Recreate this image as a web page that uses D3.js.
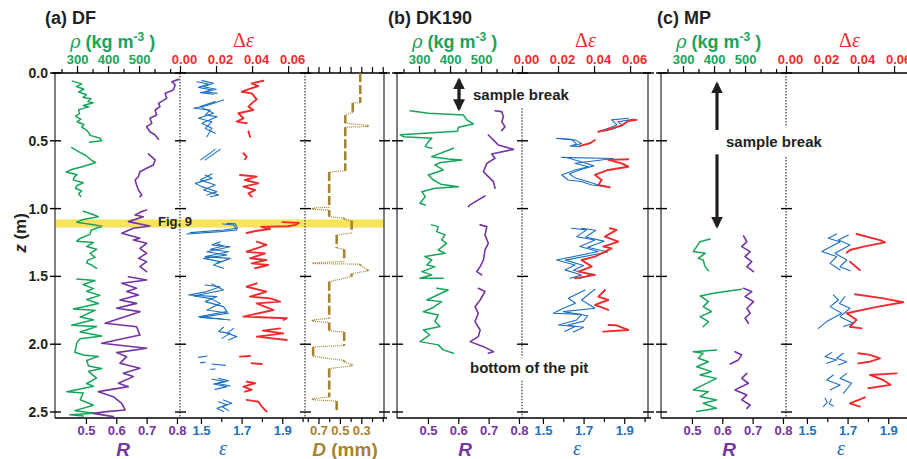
<!DOCTYPE html>
<html>
<head>
<meta charset="utf-8">
<script src="https://cdn.jsdelivr.net/npm/d3@7"></script>
<style>
body { margin: 0; background: #fff; }
svg { display: block; font-family: Arial, "Liberation Sans", sans-serif; }
</style>
</head>
<body>
<div id="chart"></div>
<script>
// depth ticks and axis ticks
var zTicks = [0, 0.5, 1, 1.5, 2, 2.5];
var rhoTicks = [300, 400, 500];
var rhoMinor = [250, 350, 450, 550, 600];
var dEpsTicks = [0, 0.02, 0.04, 0.06];
var rTicks = [0.5, 0.6, 0.7, 0.8];
var epsTicks = [1.5, 1.7, 1.9];
var epsMinor = [1.6, 1.8, 2.0];
var dTicks = [0.7, 0.5, 0.3];
var dMinor = [0.8, 0.6, 0.4, 0.2, 0.1];
var fig9Band = [1.08, 1.14];

// (a) DF  -- each series: list of segments of [z, value]
var dfRho = [
  [[0.06,285],[0.08,315],[0.10,298],[0.12,322],[0.14,305],[0.16,330],[0.18,320],[0.19,345],[0.21,335],[0.22,352],[0.24,320],[0.25,338],[0.27,305],[0.30,308],[0.32,295],[0.34,312],[0.36,300],[0.38,322],[0.40,315],[0.42,330],[0.44,338],[0.46,342],[0.48,372],[0.50,380],[0.51,340]],
  [[0.55,283],[0.58,305],[0.61,330],[0.64,345],[0.66,360],[0.69,320],[0.71,285],[0.73,265],[0.75,300],[0.77,290],[0.79,288],[0.81,320],[0.83,300],[0.85,295],[0.87,315],[0.89,305],[0.91,312]],
  [[1.02,320],[1.04,347],[1.06,369],[1.08,320],[1.10,299],[1.115,342],[1.13,380],[1.16,345],[1.19,342],[1.22,310],[1.24,299],[1.25,353],[1.28,331],[1.30,363],[1.33,342],[1.36,358],[1.38,335],[1.40,331],[1.42,350],[1.44,363]],
  [[1.52,299],[1.53,358],[1.56,320],[1.59,353],[1.61,331],[1.64,374],[1.67,331],[1.70,369],[1.74,288],[1.75,358],[1.80,310],[1.82,353],[1.86,283],[1.87,363],[1.91,310],[1.94,380],[1.96,310],[1.99,299],[2.06,293],[2.08,320],[2.09,369],[2.12,331],[2.16,337],[2.18,380],[2.20,337],[2.25,363],[2.29,331],[2.31,353],[2.35,267],[2.36,320],[2.41,310],[2.45,353],[2.49,293],[2.51,358],[2.52,277],[2.53,320]]
];
var dfR = [
  [[0.047,0.805],[0.064,0.783],[0.088,0.794],[0.125,0.788],[0.15,0.761],[0.187,0.766],[0.224,0.739],[0.248,0.744],[0.273,0.728],[0.31,0.733],[0.334,0.711],[0.371,0.717],[0.396,0.700],[0.433,0.711],[0.457,0.728],[0.489,0.739]],
  [[0.597,0.706],[0.641,0.728],[0.678,0.722],[0.703,0.700],[0.728,0.678],[0.764,0.673],[0.789,0.662],[0.826,0.667],[0.863,0.673],[0.90,0.684],[0.912,0.678]],
  [[1.01,0.700],[1.022,0.684],[1.047,0.662],[1.06,0.689],[1.096,0.640],[1.128,0.711],[1.145,0.656],[1.182,0.618],[1.219,0.678],[1.231,0.656],[1.256,0.700],[1.293,0.678],[1.33,0.700],[1.367,0.673],[1.391,0.700],[1.428,0.678],[1.465,0.700]],
  [[1.502,0.640],[1.526,0.700],[1.551,0.618],[1.588,0.667],[1.612,0.634],[1.637,0.673],[1.674,0.612],[1.699,0.667],[1.735,0.601],[1.76,0.678],[1.846,0.563],[1.871,0.667],[1.932,0.678],[1.993,0.552],[2.03,0.700],[2.062,0.601],[2.092,0.634],[2.141,0.612],[2.178,0.678],[2.215,0.623],[2.239,0.656],[2.288,0.607],[2.313,0.640],[2.35,0.541],[2.387,0.590],[2.436,0.618],[2.485,0.629],[2.497,0.568],[2.51,0.524],[2.534,0.590]]
];
var dfEpsA = [
  [[0.064,1.48],[0.081,1.538],[0.106,1.488],[0.125,1.554],[0.145,1.497],[0.157,1.562]],
  [[0.199,1.611],[0.24,1.53],[0.26,1.464],[0.273,1.546],[0.31,1.521],[0.322,1.579],[0.371,1.505],[0.408,1.554],[0.47,1.529]],
  [[0.563,1.595],[0.641,1.521]],
  [[0.752,1.521],[0.777,1.554],[0.814,1.472],[0.838,1.505],[0.875,1.579],[0.90,1.529]],
  [[1.113,1.608],[1.121,1.661],[1.158,1.677],[1.17,1.595],[1.187,1.431]],
  [[1.244,1.595],[1.268,1.554],[1.281,1.644],[1.318,1.529],[1.342,1.628],[1.367,1.513],[1.391,1.595],[1.416,1.562],[1.44,1.611]],
  [[1.563,1.521],[1.576,1.595],[1.612,1.529],[1.637,1.439],[1.649,1.579],[1.686,1.521],[1.723,1.611],[1.76,1.628],[1.797,1.488],[1.809,1.562],[1.821,1.644]],
  [[1.875,1.611],[1.907,1.587],[1.92,1.644],[1.957,1.603]],
  [[2.087,1.529],[2.097,1.488]],
  [[2.146,1.554],[2.156,1.62]],
  [[2.259,1.554],[2.276,1.62],[2.293,1.562],[2.313,1.628],[2.333,1.57]],
  [[2.424,1.587],[2.448,1.628],[2.473,1.579],[2.497,1.611]]
];
var dfEpsB = [
  [[0.056,1.505],[0.076,1.562],[0.101,1.513],[0.12,1.575],[0.14,1.521],[0.15,1.579]],
  [[0.211,1.57],[0.248,1.497],[0.297,1.562],[0.334,1.488],[0.359,1.554],[0.408,1.521],[0.445,1.57]],
  [[0.563,1.57],[0.641,1.5]],
  [[0.745,1.554],[0.789,1.497],[0.826,1.57],[0.863,1.513],[0.90,1.587],[0.912,1.546]],
  [[1.109,1.628],[1.113,1.669],[1.145,1.68],[1.158,1.611],[1.177,1.447]],
  [[1.256,1.57],[1.276,1.611],[1.30,1.546],[1.318,1.636],[1.354,1.521],[1.367,1.644],[1.404,1.579]],
  [[1.556,1.554],[1.60,1.611],[1.644,1.464],[1.662,1.546],[1.699,1.595],[1.748,1.529],[1.772,1.636],[1.802,1.497],[1.816,1.611]],
  [[1.883,1.661],[1.92,1.628],[1.944,1.677],[1.969,1.636]],
  [[2.134,1.521],[2.136,1.497]],
  [[2.183,1.57],[2.185,1.546]],
  [[2.252,1.587],[2.269,1.636],[2.288,1.579],[2.308,1.644]],
  [[2.411,1.611],[2.436,1.652],[2.46,1.603],[2.49,1.636]]
];
var dfDEps = [
  [[0.057,0.0463],[0.076,0.0398],[0.096,0.0435],[0.138,0.0343],[0.15,0.0398],[0.194,0.0426],[0.224,0.0398],[0.248,0.038],[0.273,0.0407],[0.297,0.0324],[0.334,0.0352],[0.359,0.0315],[0.371,0.037]],
  [[0.43,0.038],[0.47,0.0389]],
  [[0.592,0.0352],[0.617,0.037],[0.637,0.0361]],
  [[0.752,0.0333],[0.764,0.0426],[0.789,0.0361],[0.814,0.0435],[0.838,0.0352],[0.863,0.0417],[0.887,0.038],[0.912,0.0398]],
  [[1.10,0.057],[1.105,0.066],[1.12,0.064],[1.13,0.06],[1.135,0.045],[1.15,0.05],[1.165,0.042],[1.18,0.037]],
  [[1.244,0.0426],[1.268,0.048],[1.318,0.037],[1.33,0.0472],[1.367,0.0389],[1.379,0.048],[1.404,0.0398],[1.416,0.049],[1.44,0.0417]],
  [[1.551,0.0426],[1.576,0.037],[1.612,0.048],[1.649,0.0389],[1.662,0.05],[1.686,0.0556],[1.699,0.0426],[1.748,0.0519],[1.797,0.0352],[1.809,0.0593],[1.821,0.0574]],
  [[1.883,0.0556],[1.90,0.046],[1.92,0.0574],[1.944,0.0426],[1.969,0.0593]],
  [[2.087,0.0389],[2.092,0.0333]],
  [[2.141,0.0398],[2.146,0.0454]],
  [[2.276,0.037],[2.288,0.0417],[2.313,0.0352],[2.337,0.0398],[2.35,0.0361]],
  [[2.411,0.037],[2.424,0.0435],[2.46,0.0454],[2.497,0.0481]]
];
// grain size D (mm): [z top, z bottom, D]
var dfGrain = [
  [0.00,0.22,0.31],[0.22,0.29,0.38],[0.31,0.37,0.45],[0.385,0.395,0.24],[0.40,0.72,0.45],
  [0.73,0.99,0.60],[0.995,1.005,0.75],[1.01,1.06,0.60],[1.07,1.08,0.46],[1.09,1.18,0.39],
  [1.195,1.29,0.53],[1.30,1.39,0.46],[1.40,1.405,0.75],[1.41,1.42,0.31],[1.45,1.46,0.24],
  [1.48,1.50,0.39],[1.54,1.81,0.60],[1.82,1.83,0.75],[1.84,1.90,0.60],[1.91,2.01,0.46],
  [2.02,2.09,0.75],[2.12,2.13,0.46],[2.15,2.16,0.39],[2.18,2.39,0.60],[2.40,2.41,0.75],[2.42,2.50,0.53]
];

// (b) DK190
var dkRho = [
  [[0.278,271],[0.297,330],[0.31,443],[0.346,454],[0.376,475],[0.40,427],[0.43,424],[0.455,239],[0.47,250],[0.482,341],[0.506,330],[0.543,320],[0.555,341]],
  [[0.555,411],[0.617,341],[0.635,395],[0.641,438],[0.66,370],[0.678,351],[0.715,378],[0.752,330],[0.789,346],[0.82,370],[0.838,427],[0.85,351],[0.875,309],[0.912,320],[0.961,303],[0.973,320]],
  [[1.12,341],[1.133,362],[1.17,357],[1.194,384],[1.231,373],[1.256,389],[1.305,362],[1.33,384],[1.354,319],[1.379,341],[1.416,325],[1.428,351],[1.465,309],[1.489,341],[1.514,303],[1.514,378]],
  [[1.588,357],[1.60,394],[1.674,325],[1.686,373],[1.735,341],[1.76,314],[1.784,362],[1.833,351],[1.87,368],[1.895,314],[1.932,335],[1.981,303],[2.005,362],[2.042,378],[2.067,411]]
];
var dkR = [
  [[0.278,0.721],[0.285,0.743],[0.322,0.749],[0.359,0.743],[0.396,0.754],[0.425,0.743]],
  [[0.457,0.699],[0.506,0.721],[0.531,0.732],[0.563,0.782],[0.597,0.710],[0.629,0.721],[0.666,0.694],[0.728,0.683],[0.764,0.699],[0.801,0.716],[0.85,0.721]],
  [[0.907,0.688],[0.936,0.666],[0.973,0.639],[0.986,0.633]],
  [[1.12,0.672],[1.133,0.694],[1.194,0.688],[1.256,0.699],[1.305,0.688],[1.379,0.683],[1.428,0.672],[1.465,0.661],[1.489,0.677]],
  [[1.588,0.666],[1.612,0.688],[1.674,0.672],[1.723,0.655],[1.772,0.666],[1.833,0.655],[1.895,0.672],[1.944,0.666],[1.981,0.639],[2.018,0.683],[2.055,0.716],[2.067,0.699]]
];
var dkEpsA = [
  [[0.334,1.92],[0.346,1.838],[0.383,1.863],[0.408,1.822],[0.433,1.772]],
  [[0.482,1.567],[0.489,1.641],[0.524,1.666],[0.538,1.633],[0.543,1.682]],
  [[0.622,1.592],[0.63,1.846],[0.666,1.658],[0.691,1.723],[0.715,1.658],[0.752,1.592],[0.789,1.625],[0.80,1.69],[0.826,1.74],[0.838,1.822]],
  [[1.145,1.641],[1.157,1.715],[1.207,1.666],[1.231,1.756],[1.28,1.682],[1.317,1.772],[1.379,1.567],[1.416,1.658],[1.452,1.608],[1.489,1.69],[1.514,1.633]],
  [[1.60,1.707],[1.661,1.625],[1.698,1.66],[1.735,1.60],[1.772,1.551],[1.78,1.69],[1.821,1.666],[1.858,1.576],[1.87,1.658],[1.907,1.608]]
];
var dkEpsB = [
  [[0.34,1.95],[0.36,1.87],[0.385,1.89],[0.41,1.85],[0.43,1.80]],
  [[0.485,1.59],[0.495,1.66],[0.52,1.69],[0.535,1.655]],
  [[0.625,1.62],[0.66,1.70],[0.685,1.75],[0.71,1.69],[0.745,1.63],[0.775,1.66],[0.80,1.72],[0.83,1.78],[0.84,1.81]],
  [[1.145,1.69],[1.16,1.76],[1.21,1.71],[1.24,1.80],[1.285,1.72],[1.32,1.82],[1.38,1.61],[1.42,1.70],[1.455,1.65],[1.49,1.74],[1.515,1.68]],
  [[1.595,1.756],[1.674,1.69],[1.735,1.756],[1.76,1.60],[1.79,1.72],[1.83,1.70],[1.86,1.62],[1.875,1.70],[1.91,1.65]]
];
var dkDEps = [
  [[0.346,0.0637],[0.354,0.059],[0.388,0.0553],[0.408,0.0498],[0.433,0.0424]],
  [[0.494,0.0405],[0.518,0.0378],[0.538,0.0322]],
  [[0.636,0.059],[0.641,0.0479],[0.666,0.0553],[0.691,0.059],[0.715,0.0479],[0.752,0.0405],[0.789,0.0442],[0.826,0.0424],[0.843,0.0488]],
  [[1.145,0.0488],[1.157,0.0525],[1.207,0.046],[1.243,0.0535],[1.28,0.0451],[1.293,0.0498],[1.354,0.0405],[1.379,0.0331],[1.428,0.0387],[1.465,0.0313],[1.489,0.0405],[1.502,0.035],[1.514,0.0294]],
  [[1.60,0.0461],[1.649,0.0424],[1.674,0.0479],[1.71,0.0405],[1.747,0.0479]],
  [[1.858,0.048],[1.86,0.052],[1.895,0.059],[1.907,0.0451]]
];

// (c) MP
var mpRho = [
  [[1.224,387],[1.244,355],[1.28,344],[1.317,333],[1.33,371],[1.367,349],[1.379,365],[1.428,371],[1.458,382]],
  [[1.595,489],[1.62,408],[1.644,355],[1.686,382],[1.723,365],[1.76,392],[1.797,355],[1.834,382],[1.871,365]],
  [[2.043,408],[2.055,333],[2.067,365],[2.104,349],[2.129,382],[2.166,344],[2.202,392],[2.227,355],[2.252,408],[2.337,333],[2.35,382],[2.386,355],[2.411,408],[2.436,365],[2.473,408],[2.497,344]]
];
var mpR = [
  [[1.202,0.670],[1.244,0.681],[1.28,0.664],[1.317,0.692],[1.354,0.675],[1.391,0.697],[1.428,0.681],[1.465,0.703]],
  [[1.588,0.670],[1.612,0.697],[1.649,0.675],[1.686,0.703],[1.735,0.681],[1.772,0.692],[1.809,0.675],[1.846,0.686]],
  [[2.055,0.642],[2.079,0.664],[2.116,0.653],[2.146,0.626]],
  [[2.215,0.681],[2.252,0.664],[2.288,0.686],[2.337,0.642],[2.374,0.681],[2.411,0.664],[2.448,0.692],[2.473,0.681]]
];
var mpEpsA = [
  [[1.187,1.646],[1.219,1.605],[1.244,1.663],[1.317,1.573],[1.354,1.646],[1.404,1.614],[1.453,1.663]],
  [[1.637,1.63],[1.674,1.655],[1.723,1.614],[1.772,1.671],[1.83,1.60],[1.883,1.556]],
  [[2.062,1.622],[2.092,1.589],[2.116,1.646],[2.141,1.597]],
  [[2.227,1.63],[2.264,1.597],[2.301,1.663],[2.337,1.614]],
  [[2.399,1.589],[2.43,1.60],[2.46,1.581]]
];
var mpEpsB = [
  [[1.195,1.704],[1.232,1.655],[1.268,1.712],[1.33,1.638],[1.379,1.696],[1.428,1.663],[1.458,1.712]],
  [[1.649,1.687],[1.70,1.66],[1.735,1.712],[1.797,1.663],[1.846,1.728],[1.87,1.68]],
  [[2.067,1.679],[2.104,1.646],[2.129,1.696],[2.153,1.655]],
  [[2.215,1.696],[2.252,1.663],[2.288,1.72],[2.362,1.679]],
  [[2.405,1.62],[2.44,1.61],[2.455,1.63]]
];
var mpDEps = [
  [[1.187,0.0392],[1.232,0.0522],[1.249,0.055],[1.28,0.043],[1.305,0.0355],[1.325,0.0337]],
  [[1.391,0.0355],[1.42,0.038],[1.453,0.041]],
  [[1.632,0.0383],[1.662,0.054],[1.691,0.0651],[1.723,0.0512],[1.772,0.0337],[1.821,0.0392],[1.871,0.0355],[1.883,0.042]],
  [[2.067,0.0401],[2.079,0.0466],[2.104,0.0522],[2.129,0.0466],[2.141,0.0401]],
  [[2.215,0.0614],[2.227,0.0466],[2.264,0.054],[2.30,0.058],[2.325,0.0457]],
  [[2.392,0.0438],[2.436,0.0355],[2.46,0.041]]
];

var green = "#17a55a", purple = "#7434a2", blue = "#1b6fc0", red = "#ee2b2f", brown = "#a6832e", ink = "#231f20";

var svg = d3.select("#chart").append("svg")
    .attr("width", 907)
    .attr("height", 459);
svg.append("rect").attr("width", 907).attr("height", 459).attr("fill", "#fff");

var defs = svg.append("defs");
defs.append("marker").attr("id", "head")
    .attr("viewBox", "0 0 10 10").attr("refX", 8).attr("refY", 5)
    .attr("markerUnits", "userSpaceOnUse")
    .attr("markerWidth", 12).attr("markerHeight", 12)
    .attr("orient", "auto-start-reverse")
  .append("path").attr("d", "M0,0 L10,5 L0,10 z").attr("fill", ink);

var z = d3.scaleLinear().domain([0, 2.5]).range([73, 412]);
var zEnd = 2.544;

var panels = [
    {title: "(a) DF", titleX: 45, left: 55, withD: true, rho: dfRho, r: dfR, epsA: dfEpsA, epsB: dfEpsB, de: dfDEps, epsX: 168, dotted: [[0, zEnd]]},
    {title: "(b) DK190", titleX: 388, left: 397, withD: false, rho: dkRho, r: dkR, epsA: dkEpsA, epsB: dkEpsB, de: dkDEps, epsX: 180, dotted: [[0.26, 2.1], [2.27, zEnd]]},
    {title: "(c) MP", titleX: 657, left: 661, withD: false, rho: mpRho, r: mpR, epsA: mpEpsA, epsB: mpEpsB, de: mpDEps, epsX: 180, dotted: [[0, 0.4], [0.62, zEnd]]}
];

function styleAxis(sel, color, size) {
    sel.select(".domain").remove();
    sel.selectAll(".tick line").attr("stroke", "#000").attr("stroke-width", 1.2);
    sel.selectAll(".tick text")
        .attr("fill", color)
        .attr("font-size", size || 13)
        .attr("font-weight", "bold")
        .attr("font-family", "Arial, 'Liberation Sans', sans-serif");
}

function drawSeries(g, segs, xs, color, width) {
    var line = d3.line()
        .x(function (d) { return xs(d[1]); })
        .y(function (d) { return z(d[0]); });
    g.selectAll(null).data(segs).enter().append("path")
        .attr("d", line)
        .attr("fill", "none")
        .attr("stroke", color)
        .attr("stroke-width", width)
        .attr("stroke-linejoin", "round")
        .attr("stroke-linecap", "round");
}

function depthTicks(g, xv, parts) {
    var ticks = zTicks.filter(function (t) {
        return parts.some(function (pt) { return t >= pt[0] - 0.01 && t <= pt[1] + 0.01; });
    });
    g.selectAll(null).data(ticks).enter().append("line")
        .attr("x1", xv - 5).attr("x2", xv + 6)
        .attr("y1", function (d) { return z(d); }).attr("y2", function (d) { return z(d); })
        .attr("stroke", "#000").attr("stroke-width", 1.4);
}

panels.forEach(function (p) {
    var L = p.left;
    var right = p.withD ? L + 329 : L + 251;
    var g = svg.append("g");

    var xRho = d3.scaleLinear().domain([229, 632]).range([L, L + 125]);
    var xR = d3.scaleLinear().domain([0.398, 0.81]).range([L, L + 125]);
    var xDe = d3.scaleLinear().domain([0, 0.0694]).range([L + 125, L + 250]);
    var xEps = d3.scaleLinear().domain([1.397, 2.012]).range([L + 125, L + 250]);
    var xD = d3.scaleLinear().domain([0.826, 0.088]).range([L + 250, L + 329]);

    // Fig. 9 band
    if (p.withD) {
        g.append("rect")
            .attr("x", L + 1).attr("y", z(fig9Band[0]))
            .attr("width", right - L - 1).attr("height", z(fig9Band[1]) - z(fig9Band[0]))
            .attr("fill", "#f8e45c");
    }

    // frame lines
    [L, right].forEach(function (xv) {
        g.append("line").attr("x1", xv).attr("x2", xv).attr("y1", z(0)).attr("y2", z(zEnd))
            .attr("stroke", "#555").attr("stroke-width", 1.5);
        depthTicks(g, xv, [[0, zEnd]]);
    });
    var dotX = [L + 125];
    if (p.withD) dotX.push(L + 250);
    dotX.forEach(function (xv, i) {
        var parts = i === 0 ? p.dotted : [[0, zEnd]];
        parts.forEach(function (pt) {
            g.append("line").attr("x1", xv).attr("x2", xv).attr("y1", z(pt[0])).attr("y2", z(pt[1]))
                .attr("stroke", "#444").attr("stroke-width", 1.3).attr("stroke-dasharray", "1.5,1.5");
        });
        depthTicks(g, xv, parts.concat([[0, 0], [zEnd, zEnd]]));
    });
    // top and bottom axis lines
    g.append("line").attr("x1", L - 3).attr("x2", right + 3).attr("y1", z(0)).attr("y2", z(0))
        .attr("stroke", "#000").attr("stroke-width", 1.4);
    g.append("line").attr("x1", L).attr("x2", right + 3).attr("y1", z(zEnd)).attr("y2", z(zEnd))
        .attr("stroke", "#000").attr("stroke-width", 1.4);

    if (p.withD) {
        g.append("g").attr("transform", "translate(" + L + ",0)")
            .call(d3.axisLeft(z).tickValues(zTicks).tickSize(0).tickPadding(7).tickFormat(d3.format(".1f")))
            .call(styleAxis, ink, 14);
    }

    // top axes
    var top = g.append("g").attr("transform", "translate(0," + z(0) + ")");
    top.append("g").call(d3.axisTop(xRho).tickValues(rhoMinor).tickSize(4).tickFormat("")).call(styleAxis, "#000");
    top.append("g").call(d3.axisTop(xRho).tickValues(rhoTicks).tickSize(7).tickPadding(2)).call(styleAxis, green);
    top.append("g").call(d3.axisTop(xDe).tickValues(dEpsTicks).tickSize(7).tickPadding(2).tickFormat(d3.format(".2f")))
        .call(styleAxis, red)
        .selectAll(".tick text").attr("dx", 4);
    if (p.withD) {
        top.append("g").call(d3.axisTop(xD).tickValues(dMinor.concat(dTicks)).tickSize(6).tickFormat("")).call(styleAxis, "#000");
    }

    // bottom axes
    var bot = g.append("g").attr("transform", "translate(0," + z(zEnd) + ")");
    bot.append("g").call(d3.axisBottom(xR).tickValues(rTicks).tickSize(6).tickPadding(2).tickFormat(d3.format(".1f"))).call(styleAxis, purple);
    bot.append("g").call(d3.axisBottom(xEps).tickValues(epsMinor).tickSize(4).tickFormat("")).call(styleAxis, "#000");
    bot.append("g").call(d3.axisBottom(xEps).tickValues(epsTicks).tickSize(6).tickPadding(2).tickFormat(d3.format(".1f"))).call(styleAxis, blue);
    if (p.withD) {
        bot.append("g").call(d3.axisBottom(xD).tickValues(dMinor).tickSize(4).tickFormat("")).call(styleAxis, "#000");
        bot.append("g").call(d3.axisBottom(xD).tickValues(dTicks).tickSize(6).tickPadding(2).tickFormat(d3.format(".1f"))).call(styleAxis, brown);
    }

    // profiles
    drawSeries(g, p.rho, xRho, green, 1.5);
    drawSeries(g, p.r, xR, purple, 1.6);
    drawSeries(g, p.epsA, xEps, blue, 1.1);
    drawSeries(g, p.epsB, xEps, blue, 1.1);
    drawSeries(g, p.de, xDe, red, 1.9);

    if (p.withD) {
        g.selectAll(null).data(d3.pairs(dfGrain)).enter().append("path")
            .attr("d", function (d) {
                return "M" + xD(d[0][2]) + "," + z(d[0][1]) + "L" + xD(d[1][2]) + "," + z(d[1][0]);
            })
            .attr("fill", "none").attr("stroke", brown).attr("stroke-width", 1.2).attr("stroke-dasharray", "1,1");
        g.selectAll(null).data(dfGrain).enter().append("line")
            .attr("x1", function (d) { return xD(d[2]); })
            .attr("x2", function (d) { return xD(d[2]); })
            .attr("y1", function (d) { return z(d[0]); })
            .attr("y2", function (d) { return z(d[1]); })
            .attr("stroke", brown).attr("stroke-width", 2.6).attr("stroke-dasharray", "9,3");
        g.append("text").attr("x", 158).attr("y", z(fig9Band[1]) - 1.5)
            .attr("font-size", 13).attr("font-weight", "bold").attr("fill", ink).text("Fig. 9");
    }

    // titles
    g.append("text").attr("x", p.titleX).attr("y", 24)
        .attr("font-size", 18).attr("font-weight", "bold").attr("fill", ink).text(p.title);
    var rt = g.append("text").attr("x", L + 15).attr("y", 48).attr("fill", green)
        .attr("font-size", 18).attr("font-weight", "bold");
    rt.append("tspan").attr("font-family", "'DejaVu Serif', serif").attr("font-style", "italic").attr("font-weight", "normal").text("ρ");
    rt.append("tspan").text(" (kg m");
    rt.append("tspan").attr("font-size", 12).attr("dy", -7).text("-3");
    rt.append("tspan").attr("dy", 7).text(" )");
    var de = g.append("text").attr("x", L + 178).attr("y", 47).attr("fill", red)
        .attr("font-family", "'Liberation Serif', 'Times New Roman', serif").attr("font-size", 20);
    de.append("tspan").text("Δ");
    de.append("tspan").attr("font-style", "italic").text("ε");
    g.append("text").attr("x", L + 68).attr("y", 456).attr("text-anchor", "middle").attr("fill", purple)
        .attr("font-size", 19).attr("font-weight", "bold").attr("font-style", "italic").text("R");
    g.append("text").attr("x", L + p.epsX).attr("y", 455).attr("text-anchor", "middle").attr("fill", blue)
        .attr("font-family", "'Liberation Serif', 'Times New Roman', serif").attr("font-style", "italic")
        .attr("font-size", 20).text("ε");
    if (p.withD) {
        var dt = g.append("text").attr("x", L + 290).attr("y", 456).attr("text-anchor", "middle").attr("fill", brown)
            .attr("font-size", 19).attr("font-weight", "bold");
        dt.append("tspan").attr("font-style", "italic").text("D");
        dt.append("tspan").text(" (mm)");
    }
});

// depth label
var zl = svg.append("text").attr("transform", "translate(26,233) rotate(-90)")
    .attr("text-anchor", "middle").attr("font-size", 17).attr("font-weight", "bold").attr("fill", ink);
zl.append("tspan").attr("font-style", "italic").text("z");
zl.append("tspan").text(" (m)");

// sample break / pit annotations
function arrow(x, z1, z2) {
    svg.append("line").attr("x1", x).attr("x2", x).attr("y1", z(z1)).attr("y2", z(z2))
        .attr("stroke", ink).attr("stroke-width", 3.2).attr("marker-end", "url(#head)");
}
arrow(459, 0.16, 0.05);
arrow(459, 0.15, 0.265);
arrow(717, 0.42, 0.08);
arrow(717, 0.6, 1.13);
svg.append("text").attr("x", 473).attr("y", 100).attr("font-size", 15).attr("font-weight", "bold").attr("fill", ink).text("sample break");
svg.append("text").attr("x", 726).attr("y", 147).attr("font-size", 15).attr("font-weight", "bold").attr("fill", ink).text("sample break");
svg.append("text").attr("x", 470).attr("y", 373).attr("font-size", 15).attr("font-weight", "bold").attr("fill", ink).text("bottom of the pit");
</script>
</body>
</html>
